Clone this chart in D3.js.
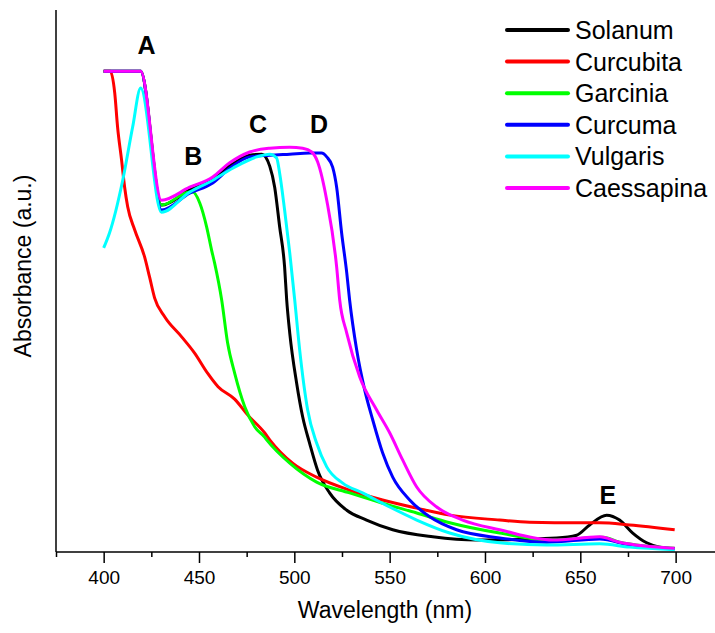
<!DOCTYPE html>
<html>
<head>
<meta charset="utf-8">
<script src="https://cdn.jsdelivr.net/npm/d3@7"></script>
<style>
    body { margin: 0; background: white; }
    svg { font-family: "Liberation Sans", Arial, sans-serif; }
</style>
</head>
<body>
<svg id="chart" width="715" height="633"></svg>
<script>
// [wavelength (nm), absorbance (a.u.)]
const solanum = [[400,0.887],[419.4,0.887],[430.3,0.640],[445.1,0.668],[457.2,0.688],[466.1,0.712],[476.6,0.732],[483,0.734],[487.1,0.712],[489.7,0.673],[492.3,0.600],[494.9,0.526],[496.0,0.465],[497.6,0.404],[501.2,0.312],[504.4,0.249],[508.0,0.201],[512.2,0.151],[518.5,0.109],[527.5,0.077],[537.9,0.059],[551.6,0.041],[572.6,0.028],[595.6,0.022],[637.6,0.026],[648.1,0.031],[654.9,0.050],[663.8,0.068],[670.6,0.059],[677.5,0.035],[684.8,0.017],[691.6,0.009],[699.5,0.006]];
const curcubita = [[400,0.887],[403.5,0.887],[405.8,0.847],[407.3,0.784],[409.4,0.723],[411.0,0.673],[412.6,0.637],[416.3,0.594],[421.5,0.544],[424.1,0.507],[426.7,0.469],[432.0,0.434],[440.9,0.397],[447.7,0.367],[454.5,0.330],[460,0.305],[468.7,0.282],[475.5,0.253],[484.4,0.220],[487.1,0.207],[499.1,0.164],[511.7,0.138],[529.0,0.114],[546.3,0.096],[564.2,0.081],[581.5,0.068],[607.7,0.059],[623.4,0.055],[649.6,0.054],[660.2,0.054],[675.9,0.050],[699.5,0.041]];
const garcinia = [[400,0.887],[419.4,0.887],[430.3,0.640],[445.1,0.664],[446.7,0.664],[450.4,0.644],[454.0,0.600],[456.6,0.557],[458.2,0.533],[461.9,0.465],[465.0,0.386],[468.7,0.330],[474.0,0.268],[479.2,0.231],[484.4,0.212],[485.5,0.207],[497.6,0.164],[511.7,0.129],[529.0,0.109],[546.3,0.090],[564.2,0.072],[581.5,0.054],[607.7,0.035],[635.5,0.022],[662,0.027],[670.6,0.018],[699.5,0.007]];
const curcuma = [[400,0.887],[419.4,0.887],[430.4,0.631],[445.1,0.662],[457.2,0.681],[466.1,0.708],[476.6,0.729],[487.1,0.732],[497.6,0.734],[508.0,0.736],[514.3,0.736],[517.0,0.729],[520.1,0.710],[522.2,0.673],[524.8,0.589],[527.5,0.515],[529.0,0.465],[532.7,0.373],[536.9,0.299],[541.1,0.244],[546.3,0.183],[551.6,0.138],[560.5,0.096],[571.0,0.065],[585.1,0.041],[607.7,0.026],[632.4,0.018],[660.2,0.024],[675.9,0.013],[699.5,0.006]];
const vulgaris = [[400,0.561],[403.1,0.589],[410.0,0.686],[415.2,0.784],[419.4,0.856],[430.3,0.627],[445.1,0.664],[457.2,0.686],[467.7,0.708],[480.2,0.729],[487.1,0.734],[490.7,0.727],[492.3,0.699],[494.9,0.631],[497.6,0.552],[500.2,0.465],[502.8,0.373],[507.0,0.262],[511.7,0.201],[517.0,0.157],[525.4,0.127],[535.8,0.109],[550.0,0.083],[564.2,0.059],[581.5,0.035],[607.7,0.017],[632.4,0.013],[660.2,0.015],[675.9,0.009],[699.5,0.004]];
const caessapina = [[400,0.887],[419.4,0.887],[430.3,0.649],[445.1,0.673],[457.2,0.692],[466.1,0.718],[476.6,0.738],[487.1,0.745],[497.6,0.747],[504.4,0.745],[509.1,0.738],[512.2,0.720],[517.0,0.649],[522.2,0.526],[523.8,0.465],[527.5,0.404],[534.3,0.323],[543.2,0.262],[550.0,0.220],[556.8,0.170],[564.2,0.120],[574.7,0.083],[588.3,0.059],[607.7,0.041],[635.5,0.022],[660.2,0.028],[670.6,0.018],[699.5,0.007]];

const seriesNames = ["Solanum", "Curcubita", "Garcinia", "Curcuma", "Vulgaris", "Caessapina"];
const seriesData = [solanum, curcubita, garcinia, curcuma, vulgaris, caessapina];
const seriesColours = ["#000000", "#ff0000", "#00ff00", "#0000ff", "#00ffff", "#ff00ff"];

const xTicks = [400, 450, 500, 550, 600, 650, 700];
const xMinorTicks = [375, 425, 475, 525, 575, 625, 675, 725];

// peak labels: [text, wavelength, absorbance]
const peakLabels = [["A", 422.5, 0.935], ["B", 447, 0.73], ["C", 481, 0.789], ["D", 513, 0.789], ["E", 664.5, 0.105]];

const svg = d3.select("#chart");

const xScale = d3.scaleLinear()
    .domain([375, 725])
    .range([56, 723.3]);
const yScale = d3.scaleLinear()
    .domain([0, 1])
    .range([552, 10]);

const line = d3.line()
    .x(d => xScale(d[0]))
    .y(d => yScale(d[1]))
    .curve(d3.curveMonotoneX);

svg.selectAll(".spectrum")
    .data(seriesData)
    .join("path")
    .attr("class", "spectrum")
    .attr("fill", "none")
    .attr("stroke", (d, i) => seriesColours[i])
    .attr("stroke-width", 3)
    .attr("stroke-linejoin", "round")
    .attr("d", line);

// axes
const xAxis = svg.append("g")
    .attr("transform", `translate(0,${yScale(0)})`);
xAxis.append("g")
    .call(d3.axisBottom(xScale).tickValues(xMinorTicks).tickSize(5).tickFormat(""))
    .call(g => g.select(".domain").remove());
xAxis.append("g")
    .call(d3.axisBottom(xScale).tickValues(xTicks).tickSize(11).tickPadding(8).tickFormat(d3.format("d")))
    .call(g => g.select(".domain").attr("d", `M${xScale(375)},0H715`));
xAxis.selectAll("line").attr("stroke", "#000").attr("stroke-width", 1.5);
xAxis.selectAll(".domain").attr("stroke", "#000").attr("stroke-width", 1.5);
xAxis.selectAll("text")
    .attr("font-size", 19)
    .attr("font-family", "Liberation Sans, Arial, sans-serif")
    .attr("fill", "#000");

svg.append("line")
    .attr("x1", xScale(375))
    .attr("x2", xScale(375))
    .attr("y1", yScale(1))
    .attr("y2", yScale(0))
    .attr("stroke", "#000")
    .attr("stroke-width", 1.5);

svg.append("text")
    .attr("x", 385)
    .attr("y", 612)
    .attr("text-anchor", "middle")
    .attr("dominant-baseline", "middle")
    .attr("font-size", 23)
    .text("Wavelength (nm)");

svg.append("text")
    .attr("transform", "translate(25,266) rotate(-90)")
    .attr("text-anchor", "middle")
    .attr("dominant-baseline", "middle")
    .attr("font-size", 23)
    .text("Absorbance (a.u.)");

svg.selectAll(".peak-label")
    .data(peakLabels)
    .join("text")
    .attr("class", "peak-label")
    .attr("x", d => xScale(d[1]))
    .attr("y", d => yScale(d[2]))
    .attr("text-anchor", "middle")
    .attr("dominant-baseline", "central")
    .attr("font-size", 25)
    .attr("font-weight", "bold")
    .text(d => d[0]);

// legend
const legend = svg.append("g")
    .attr("transform", "translate(507,30)");
const legendRows = legend.selectAll(".legend-row")
    .data(seriesNames)
    .join("g")
    .attr("class", "legend-row")
    .attr("transform", (d, i) => `translate(0,${i * 31.6})`);
legendRows.append("line")
    .attr("x1", 0)
    .attr("x2", 61)
    .attr("stroke", (d, i) => seriesColours[i])
    .attr("stroke-width", 4)
    .attr("stroke-linecap", "round");
legendRows.append("text")
    .attr("x", 68)
    .attr("dominant-baseline", "central")
    .attr("font-size", 25)
    .text(d => d);
</script>
</body>
</html>
